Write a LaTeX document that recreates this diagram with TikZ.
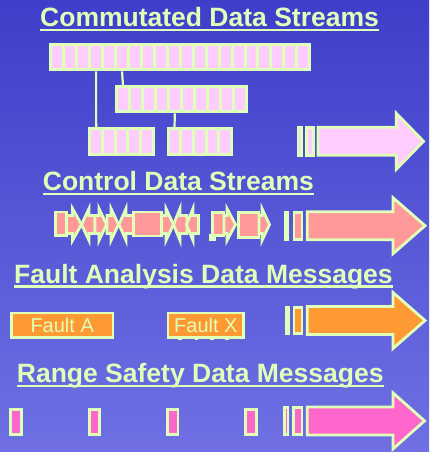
\documentclass[tikz,border=0pt]{standalone}
\usepackage{fontspec}
\setmainfont{Liberation Sans}
\usepackage{xcolor}
\usepackage{tikz}
\usetikzlibrary{positioning,calc}
\definecolor{slidegreen}{RGB}{224,255,184}
\definecolor{slidetop}{RGB}{62,62,202}
\definecolor{slidebottom}{RGB}{112,112,228}
\definecolor{slidepink}{RGB}{255,204,255}
\definecolor{slidesalmon}{RGB}{255,153,153}
\definecolor{slideorange}{RGB}{255,153,51}
\definecolor{slidemagenta}{RGB}{255,102,204}

\begin{document}
\begin{tikzpicture}[x=1pt,y=-1pt,
	title/.style={font=\fontsize{26.5}{30}\selectfont\bfseries, text=slidegreen, inner sep=0pt, anchor=base west},
	uline/.style={draw=slidegreen, line width=2.4pt},
	cell/.style={draw=slidegreen, line width=3pt, fill=slidepink, minimum width=13pt, minimum height=25.5pt, inner sep=0pt},
	part/.style={draw=slidegreen, line width=2.8pt, line join=miter},
	link/.style={draw=slidegreen, line width=2.2pt},
	fault/.style={draw=slidegreen, line width=2.6pt, fill=slideorange, text=slidegreen, inner sep=0pt, minimum height=24.8pt, font=\fontsize{20}{24}\selectfont}]
	\def\bigarrow#1#2#3#4#5{\draw[part, fill=#1] (#2,#3-14) -- (#4,#3-14) -- (#4,#3-28) -- (#5,#3) -- (#4,#3+28) -- (#4,#3+14) -- (#2,#3+14) -- cycle;}
	\def\rarr#1#2#3{\draw[part, fill=slidesalmon] (#1,215.5) -- (#2,215.5) -- (#2,208.5) -- (#3,224.5) -- (#2,240.5) -- (#2,233.5) -- (#1,233.5) -- cycle;}
	\def\larr#1#2#3{\draw[part, fill=slidesalmon] (#1,224.5) -- (#2,208.5) -- (#2,215.5) -- (#3,215.5) -- (#3,233.5) -- (#2,233.5) -- (#2,240.5) -- cycle;}
	
	% Nền
	\shade[top color=slidetop, bottom color=slidebottom] (0,0) rectangle (429,452);
	\useasboundingbox (0,0) rectangle (429,452);
	\clip (0,0) rectangle (429,452);
	
	% Tiêu đề
	\node[title] (tcomm) at (40,26.7) {Commutated Data Streams};
	\node[title] (tctrl) at (42.7,190.7) {Control Data Streams};
	\node[title] (tfault) at (14,283) {Fault Analysis Data Messages};
	\node[title] (trange) at (16.7,382.3) {Range Safety Data Messages};
	\foreach \t in {tcomm,tctrl,tfault,trange} {
		\draw[uline] ([yshift=-3.5pt]\t.base west) -- ([yshift=-3.5pt]\t.base east);
	}
	
	% Luồng ghép kênh
	\foreach \i in {1,...,20} {
		\node[cell] (ca\i) at ({50.8+12.95*(\i-0.5)},57.15) {};
	}
	\foreach \i in {1,...,10} {
		\node[cell] (cb\i) at ({116.5+12.95*(\i-0.5)},99.2) {};
	}
	\foreach \i in {1,...,5} {
		\node[cell, minimum width=12.8pt, minimum height=26pt] (cc\i) at ({89.8+12.7*(\i-0.5)},141.3) {};
		\node[cell, minimum width=12.8pt, minimum height=26pt] (cd\i) at ({168.2+12.7*(\i-0.5)},141.3) {};
	}
	\draw[link] (ca4.south) -- (cc1.north);
	\draw[link] (ca6.south) -- (cb1.north);
	\draw[link] (cb5.south) -- (cd1.north);
	\draw[part, fill=slidepink] (298,127.5) rectangle (301.5,155.3);
	\draw[part, fill=slidepink] (306.3,127.5) rectangle (313.7,155.3);
	\bigarrow{slidepink}{318}{141.3}{396.3}{423.5}
	
	% Luồng điều khiển
	\draw[part, fill=slidesalmon] (55.5,212) rectangle (66.5,235.5);
	\rarr{66.5}{72.5}{81.5}
	\larr{81.5}{89}{95}
	\rarr{95}{99}{106.5}
	\rarr{107}{111}{118.5}
	\larr{119}{126}{133.5}
	\draw[part, fill=slidesalmon] (133.5,212) rectangle (161.5,236);
	\rarr{161.5}{166}{173.5}
	\larr{173.5}{180}{187}
	\larr{186.5}{193}{198.5}
	\draw[part, fill=slidesalmon] (212.5,212.5) rectangle (224,235.5);
	\fill[slidegreen] (209,234) rectangle (215.7,241);
	\rarr{224}{227}{235.5}
	\draw[part, fill=slidesalmon] (238.8,212.5) rectangle (259,237.8);
	\rarr{259}{262}{269.5}
	\draw[part, fill=slidesalmon] (285.4,212.2) rectangle (288,239.2);
	\draw[part, fill=slidesalmon] (294,212.2) rectangle (302,239.2);
	\bigarrow{slidesalmon}{307.3}{225.7}{393}{425}
	
	% Thông điệp lỗi
	\node[fault, minimum width=101.8pt] (fa) at (62.2,325.3) {Fault A};
	\node[fault, minimum width=75.8pt] (fx) at (205.85,325.3) {Fault X};
	\foreach \x in {180,196.5,211.8,226.8} {
		\fill[slidegreen] (\x-1.7,335.5) rectangle (\x+1.7,339.5);
	}
	\draw[part, fill=slideorange] (286.4,307.4) rectangle (288.6,333.6);
	\draw[part, fill=slideorange] (294,307.4) rectangle (302,333.6);
	\bigarrow{slideorange}{307.3}{320.5}{393}{425}
	
	% Thông điệp an toàn
	\foreach \x in {10.7,89.1,167.4,245.7} {
		\draw[part, fill=slidemagenta] (\x,409.1) rectangle ++(10.6,25.2);
	}
	\draw[part, fill=slidemagenta] (284.7,407.1) rectangle (287.9,434.6);
	\draw[part, fill=slidemagenta] (293.7,407.1) rectangle (302,434.6);
	\bigarrow{slidemagenta}{307.3}{420.9}{393}{424.5}
\end{tikzpicture}
\end{document}
